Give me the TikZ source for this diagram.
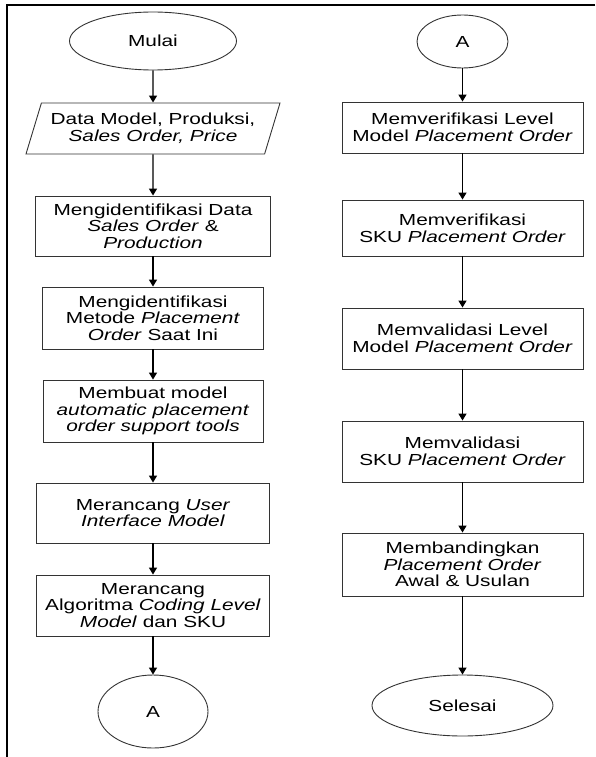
\documentclass[tikz,border=0pt]{standalone}
\usepackage{fontspec}
\setmainfont{Liberation Sans}[FakeStretch=1.3]
\usetikzlibrary{shapes.geometric, arrows.meta}

\begin{document}
\begin{tikzpicture}[x=1pt, y=-1pt,
	box/.style={draw=black!80, line width=0.9pt, rectangle, align=center, inner sep=0pt, minimum width=#1},
	terminal/.style={draw=black!80, line width=0.9pt, ellipse, inner sep=0pt},
	iobox/.style={draw=black!80, line width=0.9pt, trapezium, trapezium left angle=63, trapezium right angle=117, trapezium stretches body, align=center, inner sep=0pt},
	arr/.style={-{Triangle[width=8pt, length=7pt]}, line width=1.3pt},
	font=\fontsize{16}{16.6}\selectfont]

	\useasboundingbox (0,0) rectangle (595,757);

	% frame
	\draw[line width=2.6pt] (595,5) -- (7,5) -- (7,757);

	% left column
	\node[terminal, minimum width=167, minimum height=58] (mulai) at (153,41) {Mulai};
	\node[iobox, minimum width=254, minimum height=51] (data) at (153,128.5) {Data Model, Produksi,\\ \textit{Sales Order, Price}};
	\node[box=235, minimum height=60] (identData) at (153,226) {Mengidentifikasi Data\\ \textit{Sales Order} \&\\ \textit{Production}};
	\node[box=221, minimum height=62] (identMetode) at (153,318) {Mengidentifikasi\\ Metode \textit{Placement}\\ \textit{Order} Saat Ini};
	\node[box=220, minimum height=62] (buatModel) at (153,411) {Membuat model\\ \textit{automatic placement}\\ \textit{order support tools}};
	\node[box=233, minimum height=60] (rancangUI) at (153,513) {Merancang \textit{User}\\ \textit{Interface Model}};
	\node[box=233, minimum height=61] (rancangAlgo) at (153,605.5) {Merancang\\ Algoritma \textit{Coding Level}\\ \textit{Model} dan SKU};
	\node[terminal, minimum width=110, minimum height=73] (konA) at (153,711.5) {A};

	% right column
	\node[terminal, minimum width=91, minimum height=53] (konB) at (462.5,41.5) {A};
	\node[box=241, minimum height=51] (verLevel) at (462.5,127.5) {Memverifikasi Level\\ Model \textit{Placement Order}};
	\node[box=241, minimum height=56] (verSKU) at (462.5,228) {Memverifikasi\\ SKU \textit{Placement Order}};
	\node[box=241, minimum height=61] (valLevel) at (462.5,338.5) {Memvalidasi Level\\ Model \textit{Placement Order}};
	\node[box=241, minimum height=61] (valSKU) at (462.5,451.5) {Memvalidasi\\ SKU \textit{Placement Order}};
	\node[box=241, minimum height=63] (banding) at (462.5,564.5) {Membandingkan\\ \textit{Placement Order}\\ Awal \& Usulan};
	\node[terminal, minimum width=181, minimum height=61] (selesai) at (462.5,705.5) {Selesai};

	\draw[arr] (mulai) -- (data);
	\draw[arr] (data) -- (identData);
	\draw[arr] (identData) -- (identMetode);
	\draw[arr] (identMetode) -- (buatModel);
	\draw[arr] (buatModel) -- (rancangUI);
	\draw[arr] (rancangUI) -- (rancangAlgo);
	\draw[arr] (rancangAlgo) -- (konA);

	\draw[arr] (konB) -- (verLevel);
	\draw[arr] (verLevel) -- (verSKU);
	\draw[arr] (verSKU) -- (valLevel);
	\draw[arr] (valLevel) -- (valSKU);
	\draw[arr] (valSKU) -- (banding);
	\draw[arr] (banding) -- (selesai);

\end{tikzpicture}
\end{document}
